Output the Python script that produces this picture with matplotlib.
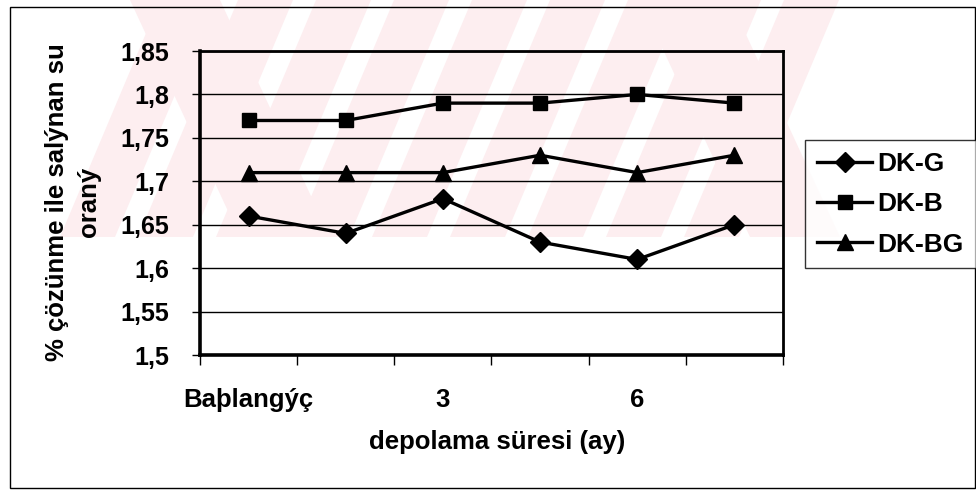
import numpy as np
import matplotlib.pyplot as plt
from matplotlib.patches import Polygon, Rectangle

# data
sure = ["Baþlangýç", "", "3", "", "6", ""]
dk_g = [1.66, 1.64, 1.68, 1.63, 1.61, 1.65]
dk_b = [1.77, 1.77, 1.79, 1.79, 1.80, 1.79]
dk_bg = [1.71, 1.71, 1.71, 1.73, 1.71, 1.73]
y_ticks = [1.5, 1.55, 1.6, 1.65, 1.7, 1.75, 1.8, 1.85]
y_tick_labels = ["1,5", "1,55", "1,6", "1,65", "1,7", "1,75", "1,8", "1,85"]

plt.rcParams['font.family'] = ['Liberation Sans', 'DejaVu Sans']
plt.rcParams['font.weight'] = 'bold'

W, H = 976, 490
fig = plt.figure(figsize=(W / 100, H / 100), dpi=100)

def fx(px):
    return px / W

def fy(py):
    return 1 - py / H

# faint pink watermark stripes of the scan (background only)
pink = '#fdeef0'
for x0 in range(60, 720, 78):
    pts = [(fx(x0 + 100), fy(0)), (fx(x0 + 155), fy(0)),
           (fx(x0 + 55), fy(237)), (fx(x0), fy(237))]
    fig.add_artist(Polygon(pts, closed=True, color=pink, lw=0, zorder=-2))
for x0 in (130, 640):
    pts = [(fx(x0), fy(0)), (fx(x0 + 90), fy(0)),
           (fx(x0 + 200), fy(237)), (fx(x0 + 110), fy(237))]
    fig.add_artist(Polygon(pts, closed=True, color=pink, lw=0, zorder=-2))

# outer chart border
fig.add_artist(Rectangle((fx(10), fy(488)), fx(975) - fx(10), fy(7) - fy(488),
                         fill=False, ec='black', lw=1.0, zorder=-1))

ax = fig.add_axes([fx(200), fy(355), fx(783) - fx(200), fy(51) - fy(355)])
ax.set_facecolor('none')

x = np.arange(len(sure))
ax.plot(x, dk_g, color='black', lw=2.4, marker='D', ms=10, label='DK-G')
ax.plot(x, dk_b, color='black', lw=2.4, marker='s', ms=10, label='DK-B')
ax.plot(x, dk_bg, color='black', lw=2.4, marker='^', ms=11, label='DK-BG')

ax.set_xlim(-0.5, len(sure) - 0.5)
ax.set_ylim(1.5, 1.85)
ax.set_yticks(y_ticks)
ax.set_yticklabels(y_tick_labels, fontsize=18)
ax.yaxis.grid(True, color='black', lw=1.0)
ax.set_axisbelow(True)

ax.set_xticks(np.arange(-0.5, len(sure), 1))
ax.set_xticklabels([])
ax.set_xticks(x, sure, minor=True, fontsize=18.5)
ax.tick_params(axis='x', which='major', direction='out', length=7, width=1)
ax.tick_params(axis='x', which='minor', length=0, pad=24)
ax.tick_params(axis='y', direction='out', length=6, width=1, pad=16)

for s in ['left', 'bottom']:
    ax.spines[s].set_linewidth(2.6)
for s in ['top', 'right']:
    ax.spines[s].set_linewidth(2.0)

fig.text(fx(73), fy(202), "% çözünme ile salýnan su\noraný", rotation=90,
         ha='center', va='center', fontsize=18.5, linespacing=1.45)
fig.text(fx(497), fy(442), "depolama süresi (ay)", ha='center', va='center',
         fontsize=18.5)

leg = fig.legend(loc='upper left', bbox_to_anchor=(fx(805), fy(140)),
                 fontsize=19, frameon=True, fancybox=False, edgecolor='black',
                 handlelength=2.1, handletextpad=0.2, labelspacing=0.62,
                 borderpad=0.45, borderaxespad=0)
leg.get_frame().set_linewidth(1.0)

fig.savefig('out.png', dpi=100)
